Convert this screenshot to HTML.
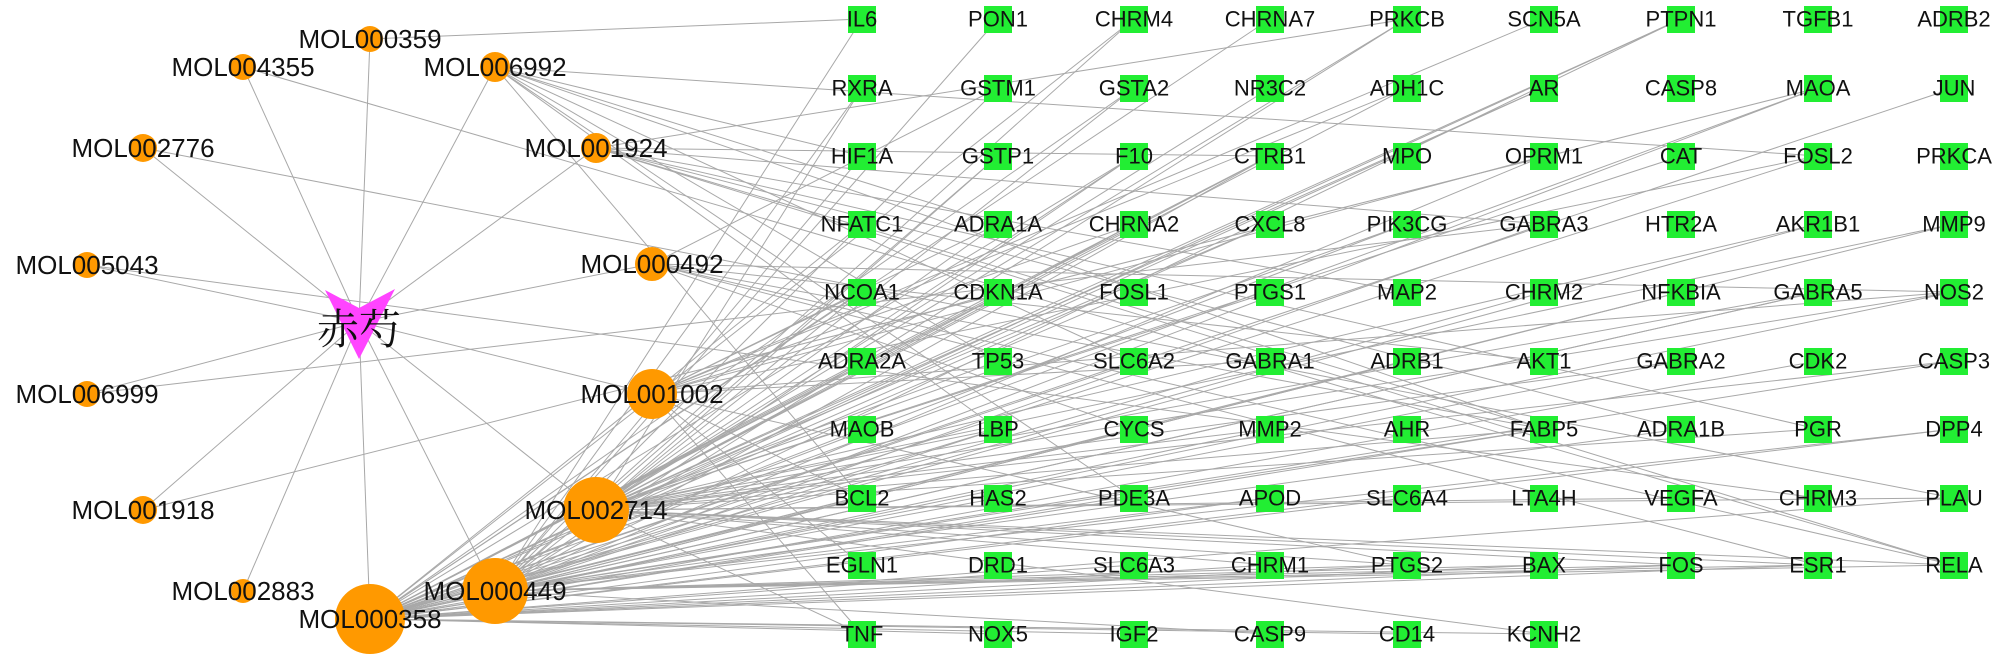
<!DOCTYPE html>
<html><head><meta charset="utf-8"><style>
html,body{margin:0;padding:0;background:#fff;width:2000px;height:661px;overflow:hidden}
svg{display:block}
text{font-family:"Liberation Sans","Noto Sans CJK SC",sans-serif;fill:#111}
</style></head><body>
<svg id="s" width="2000" height="661" viewBox="0 0 2000 661" xmlns="http://www.w3.org/2000/svg">
<g id="edges" stroke="#a8a8a8" stroke-width="1" fill="none"></g>
<g id="nodes"></g>
<g id="labels" text-anchor="middle" dominant-baseline="central">
<g font-size="26">
<text x="370" y="39">MOL000359</text>
<text x="243" y="67">MOL004355</text>
<text x="495" y="67">MOL006992</text>
<text x="143" y="148">MOL002776</text>
<text x="596" y="148">MOL001924</text>
<text x="87" y="265">MOL005043</text>
<text x="652" y="264">MOL000492</text>
<text x="87" y="394">MOL006999</text>
<text x="652" y="394">MOL001002</text>
<text x="143" y="510">MOL001918</text>
<text x="596" y="510">MOL002714</text>
<text x="243" y="591">MOL002883</text>
<text x="495" y="591">MOL000449</text>
<text x="370" y="619">MOL000358</text>
</g>
<text x="359" y="327" font-size="42" style="font-family:'Noto Serif CJK SC','Noto Sans CJK SC',serif">赤芍</text>
<g font-size="22" id="gl">
<text x="862" y="19">IL6</text><text x="998" y="19">PON1</text><text x="1134" y="19">CHRM4</text><text x="1270" y="19">CHRNA7</text><text x="1407" y="19">PRKCB</text><text x="1544" y="19">SCN5A</text><text x="1681" y="19">PTPN1</text><text x="1818" y="19">TGFB1</text><text x="1954" y="19">ADRB2</text>
<text x="862" y="88">RXRA</text><text x="998" y="88">GSTM1</text><text x="1134" y="88">GSTA2</text><text x="1270" y="88">NR3C2</text><text x="1407" y="88">ADH1C</text><text x="1544" y="88">AR</text><text x="1681" y="88">CASP8</text><text x="1818" y="88">MAOA</text><text x="1954" y="88">JUN</text>
<text x="862" y="156">HIF1A</text><text x="998" y="156">GSTP1</text><text x="1134" y="156">F10</text><text x="1270" y="156">CTRB1</text><text x="1407" y="156">MPO</text><text x="1544" y="156">OPRM1</text><text x="1681" y="156">CAT</text><text x="1818" y="156">FOSL2</text><text x="1954" y="156">PRKCA</text>
<text x="862" y="224">NFATC1</text><text x="998" y="224">ADRA1A</text><text x="1134" y="224">CHRNA2</text><text x="1270" y="224">CXCL8</text><text x="1407" y="224">PIK3CG</text><text x="1544" y="224">GABRA3</text><text x="1681" y="224">HTR2A</text><text x="1818" y="224">AKR1B1</text><text x="1954" y="224">MMP9</text>
<text x="862" y="292">NCOA1</text><text x="998" y="292">CDKN1A</text><text x="1134" y="292">FOSL1</text><text x="1270" y="292">PTGS1</text><text x="1407" y="292">MAP2</text><text x="1544" y="292">CHRM2</text><text x="1681" y="292">NFKBIA</text><text x="1818" y="292">GABRA5</text><text x="1954" y="292">NOS2</text>
<text x="862" y="361">ADRA2A</text><text x="998" y="361">TP53</text><text x="1134" y="361">SLC6A2</text><text x="1270" y="361">GABRA1</text><text x="1407" y="361">ADRB1</text><text x="1544" y="361">AKT1</text><text x="1681" y="361">GABRA2</text><text x="1818" y="361">CDK2</text><text x="1954" y="361">CASP3</text>
<text x="862" y="429">MAOB</text><text x="998" y="429">LBP</text><text x="1134" y="429">CYCS</text><text x="1270" y="429">MMP2</text><text x="1407" y="429">AHR</text><text x="1544" y="429">FABP5</text><text x="1681" y="429">ADRA1B</text><text x="1818" y="429">PGR</text><text x="1954" y="429">DPP4</text>
<text x="862" y="498">BCL2</text><text x="998" y="498">HAS2</text><text x="1134" y="498">PDE3A</text><text x="1270" y="498">APOD</text><text x="1407" y="498">SLC6A4</text><text x="1544" y="498">LTA4H</text><text x="1681" y="498">VEGFA</text><text x="1818" y="498">CHRM3</text><text x="1954" y="498">PLAU</text>
<text x="862" y="565">EGLN1</text><text x="998" y="565">DRD1</text><text x="1134" y="565">SLC6A3</text><text x="1270" y="565">CHRM1</text><text x="1407" y="565">PTGS2</text><text x="1544" y="565">BAX</text><text x="1681" y="565">FOS</text><text x="1818" y="565">ESR1</text><text x="1954" y="565">RELA</text>
<text x="862" y="634">TNF</text><text x="998" y="634">NOX5</text><text x="1134" y="634">IGF2</text><text x="1270" y="634">CASP9</text><text x="1407" y="634">CD14</text><text x="1544" y="634">KCNH2</text>
</g>
</g>
</svg>
<script>
(function(){
var NS="http://www.w3.org/2000/svg";
var E=document.getElementById('edges'),N=document.getElementById('nodes');
function el(t,a,p){var e=document.createElementNS(NS,t);for(var k in a)e.setAttribute(k,a[k]);p.appendChild(e);return e;}
var mols=[[370,39,13],[243,67,13],[495,67,15],[143,148,14],[596,148,15],[87,265,13],[652,264,17],[87,394,13],[652,394,25],[143,510,14],[596,510,33],[243,591,12],[495,591,33],[370,619,35]];
var cx=359,cy=322;
var cols=[862,998,1134,1270,1407,1544,1681,1818,1954],rows=[19,88,156,224,292,361,429,498,565,634];
var genes=[];for(var r=0;r<10;r++)for(var c=0;c<9;c++){if(r==9&&c>5)continue;genes.push([cols[c],rows[r]]);}
var seed=7;function rnd(){seed=(seed*16807)%2147483647;return seed/2147483647;}
mols.forEach(function(m){el('line',{x1:m[0],y1:m[1],x2:cx,y2:cy},E);});
var deg=[1,1,10,1,8,1,8,1,16,1,45,0,50,70];
mols.forEach(function(m,i){var n=deg[i];var used={};for(var k=0;k<n;k++){var g=Math.floor(rnd()*genes.length);if(used[g])continue;used[g]=1;el('line',{x1:m[0],y1:m[1],x2:genes[g][0],y2:genes[g][1]},E);}});
genes.forEach(function(g){el('rect',{x:g[0]-14,y:g[1]-13,width:28,height:27,fill:'#22ee33'},N);});
mols.forEach(function(m){el('circle',{cx:m[0],cy:m[1],r:m[2],fill:'#ff9900'},N);});
el('polygon',{points:'325,290 359,308 395,289 359,359',fill:'#ff44ff'},N);
})();
</script>
</body></html>
